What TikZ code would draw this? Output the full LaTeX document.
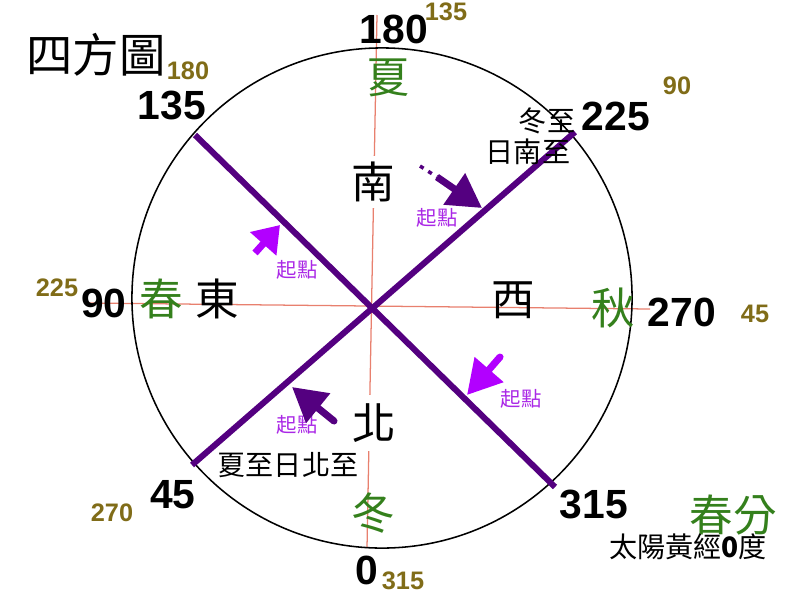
\documentclass[tikz,border=0pt]{standalone}
\usepackage{fontspec}
\setmainfont{Liberation Sans}
\newfontfamily\cjk{Noto Sans CJK TC}
\usetikzlibrary{arrows.meta}
\definecolor{numolive}{RGB}{128,108,24}
\definecolor{seasongreen}{RGB}{52,128,28}
\definecolor{linepurple}{RGB}{84,0,128}
\definecolor{startviolet}{RGB}{178,0,255}
\definecolor{startlabel}{RGB}{170,40,230}
\definecolor{axisred}{RGB}{232,128,110}
\tikzset{
  bignum/.style={font=\fontsize{29}{29}\selectfont\bfseries, inner sep=0pt},
  smallnum/.style={font=\fontsize{18}{18}\selectfont\bfseries, text=numolive, inner sep=0pt},
  season/.style={font=\cjk\fontsize{31}{31}\selectfont, text=seasongreen, inner sep=0pt},
  dirc/.style={font=\cjk\fontsize{31}{31}\selectfont, inner sep=0pt},
  note/.style={font=\cjk\fontsize{20}{20}\selectfont, inner sep=0pt},
  startmark/.style={font=\cjk\fontsize{14.5}{14.5}\selectfont, text=startlabel, inner sep=0pt},
  startarrow/.style={line width=5pt, -{Triangle[length=24pt,width=26pt]}},
}
\begin{document}
\begin{tikzpicture}[x=0.025cm, y=-0.025cm]
		\useasboundingbox (0,0) rectangle (800,600);
		% axes and circle
		\draw[axisred, line width=0.9pt] (377,15) -- (367,548);
		\draw[axisred, line width=0.9pt] (85,303) -- (650,309);
		\coordinate (o) at (382,298);
		\draw[line width=1.1pt] (o) circle (6.25cm);
		% solstice lines
		\coordinate (nw) at (195,135); \coordinate (se) at (555,487);
		\coordinate (ne) at (575,132); \coordinate (sw) at (192,465);
		\draw[linepurple, line width=4.3pt] (nw) -- (se);
		\draw[linepurple, line width=4.3pt] (ne) -- (sw);
		% title and degrees
		\node[font=\cjk\fontsize{33}{33}\selectfont, inner sep=0pt] (title) at (96,55) {四方圖};
		\node[bignum] (n180) at (394,29) {180};
		\node[bignum] (n135) at (172,105) {135};
		\node[bignum] (n225) at (616,116) {225};
		\node[bignum] (n90) at (104,303) {90};
		\node[bignum] (n270) at (682,312) {270};
		\node[bignum] (n45) at (173,495) {45};
		\node[bignum] (n0) at (367,570) {0};
		\node[bignum] (n315) at (594,504) {315};
		\node[smallnum] (s135) at (446,12) {135};
		\node[smallnum] (s180) at (188,71) {180};
		\node[smallnum] (s90) at (677,86) {90};
		\node[smallnum] (s225) at (57,288) {225};
		\node[smallnum] (s45) at (755,314) {45};
		\node[smallnum] (s270) at (112,513) {270};
		\node[smallnum] (s315) at (403,581) {315};
		% seasons and directions
		\node[season] (summer) at (388,78) {夏};
		\node[season] (spring) at (161,299) {春};
		\node[season] (autumn) at (613,308) {秋};
		\node[season] (winter) at (373,513) {冬};
		\node[dirc, fill=white, inner sep=4pt] (south) at (373,182) {南};
		\node[dirc, fill=white, inner sep=6pt] (north) at (374,423) {北};
		\node[dirc] (east) at (217,299) {東};
		\node[dirc] (west) at (513,300) {西};
		\node[note] (ws1) at (547,121) {冬至};
		\node[note] (ws2) at (528,152) {日南至};
		\node[note] (ss) at (288,465) {夏至日北至};
		\node[season, font=\cjk\fontsize{31}{31}\selectfont] (equinox) at (733,515) {春分};
		\node[note] (sun) at (688,547) {太陽黃經{\bfseries 0}度};
		% start points
		\node[startmark] (st1) at (437,218) {起點};
		\node[startmark] (st2) at (297,270) {起點};
		\node[startmark] (st3) at (521,399) {起點};
		\node[startmark] (st4) at (297,425) {起點};
		\coordinate (a1d) at (420,166); \coordinate (a1s) at (437,177); \coordinate (a1e) at (482,208);
		\coordinate (a2s) at (255,253); \coordinate (a2e) at (280,225);
		\coordinate (a3s) at (500,357); \coordinate (a3e) at (467,395);
		\coordinate (a4s) at (334,421); \coordinate (a4e) at (292,387);
		\draw[linepurple, line width=2.5pt, dash pattern=on 3pt off 4pt] (a1d) -- (a1s);
		\draw[startarrow, linepurple] (a1s) -- (a1e);
		\draw[startarrow, startviolet, -{Triangle[length=18pt,width=24pt]}] (a2s) -- (a2e);
		\draw[startarrow, startviolet, line cap=round] (a3s) -- (a3e);
		\draw[startarrow, linepurple, line cap=round] (a4s) -- (a4e);
\end{tikzpicture}
\end{document}
